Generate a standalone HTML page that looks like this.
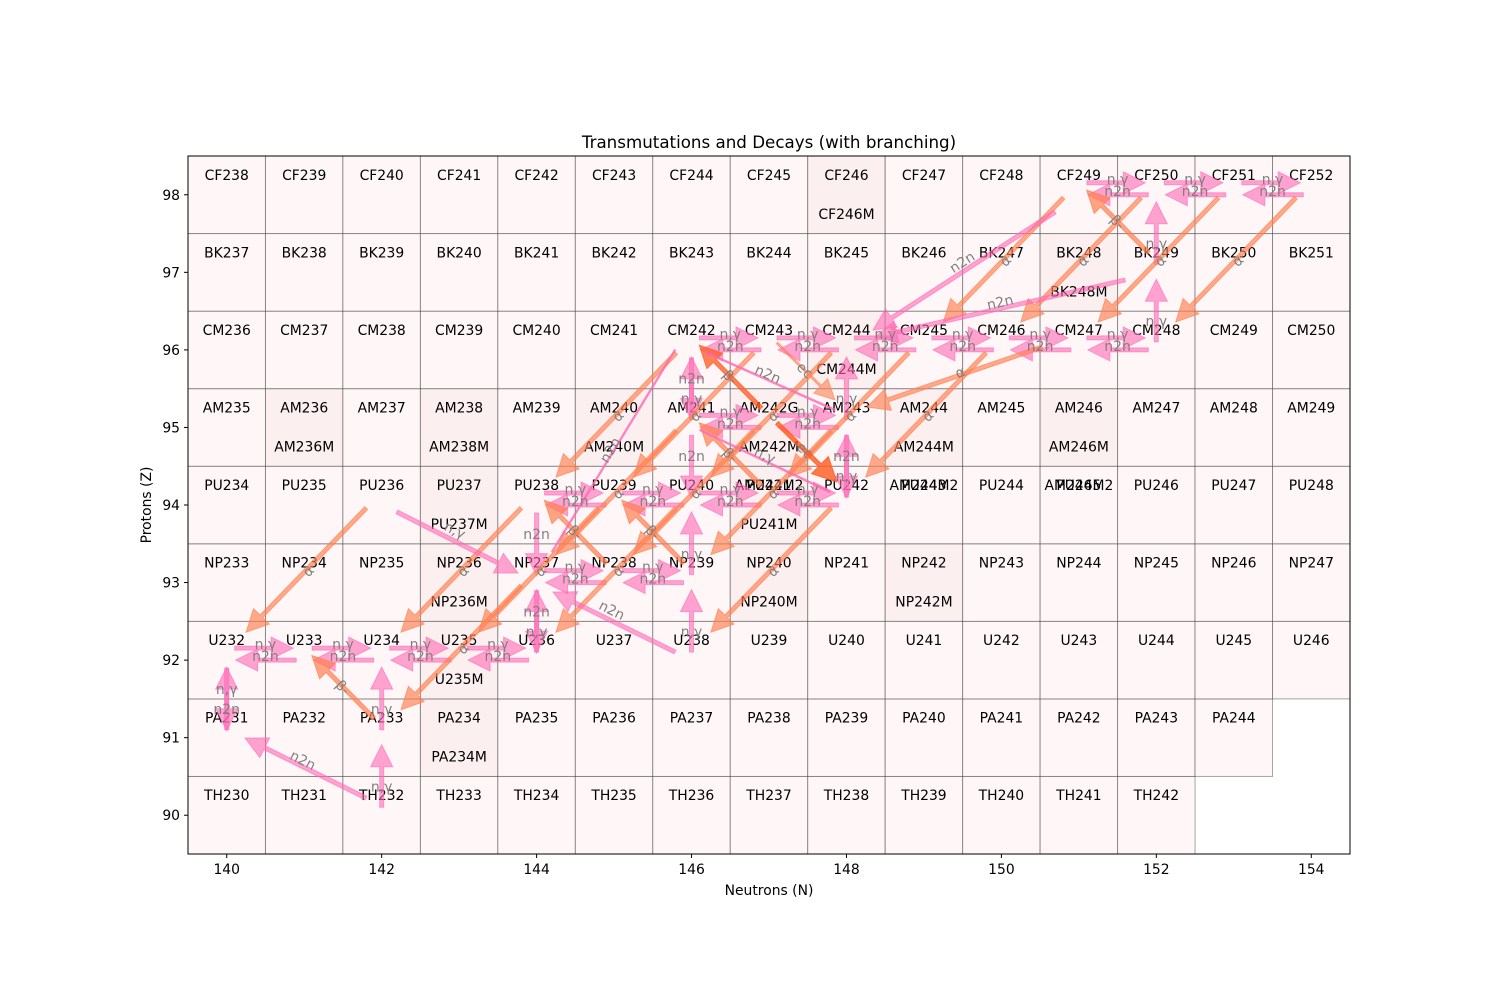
<!DOCTYPE html>
<html><head><meta charset="utf-8"><style>
html,body{margin:0;padding:0;background:#fff;}
svg{display:block;font-family:"DejaVu Sans","Liberation Sans",sans-serif;}
</style></head><body>
<svg id="s" width="1500" height="1000" xmlns="http://www.w3.org/2000/svg"></svg>
<script>
const X=n=>188+(n-139.5)*77.467, Y=z=>854-(z-89.5)*77.556;
let o='';
const rows={90:[140,152],91:[140,153],92:[140,154],93:[140,154],94:[140,154],95:[140,154],96:[140,154],97:[140,154],98:[140,154]};
const el={90:'TH',91:'PA',92:'U',93:'NP',94:'PU',95:'AM',96:'CM',97:'BK',98:'CF'};
const meta={'148,98':'CF246M','151,97':'BK248M','148,96':'CM244M','141,95':'AM236M','143,95':'AM238M','145,95':'AM240M','147,95':'AM242M','149,95':'AM244M','151,95':'AM246M','143,94':'PU237M','147,94':'PU241M','143,93':'NP236M','147,93':'NP240M','149,93':'NP242M','143,92':'U235M','143,91':'PA234M'};
const dark={'148,98':1,'151,97':1,'148,96':1,'141,95':1,'143,95':1,'145,95':1,'147,95':1,'149,95':1,'151,95':1,'143,94':1,'147,94':1,'143,93':1,'147,93':1,'149,93':1,'143,92':1,'143,91':1};
let cells='',txt='';
for(const z in rows){const Z=+z;for(let n=rows[z][0];n<=rows[z][1];n++){
 const k=n+','+Z;
 cells+=`<rect x="${X(n-0.5)}" y="${Y(Z+0.5)}" width="77.467" height="77.556" fill="${dark[k]?'#fcefef':'#fff7f7'}" stroke="rgba(0,0,0,0.35)" stroke-width="1"/>`;
 let name=el[Z]+(n+Z);
 if(k=='147,95')name='AM242G';
 txt+=`<text x="${X(n)}" y="${Y(Z)-15}" text-anchor="middle" font-size="13.9">${name}</text>`;
 if(meta[k])txt+=`<text x="${X(n)}" y="${Y(Z)+24}" text-anchor="middle" font-size="13.9">${meta[k]}</text>`;
}}
txt+=`<text x="${X(147)}" y="${Y(94)-15}" text-anchor="middle" font-size="13.9">AM242M2</text>`;
txt+=`<text x="${X(149)}" y="${Y(94)-15}" text-anchor="middle" font-size="13.9">AM244M2</text>`;
txt+=`<text x="${X(151)}" y="${Y(94)-15}" text-anchor="middle" font-size="13.9">AM246M2</text>`;
let ar='',lb='';
function arr(x1,y1,x2,y2,col,op,w,hw,hl,label,lx,ly,rot){
 w=w||4;hw=hw===undefined?22:hw;hl=hl===undefined?22:hl;
 const dx=x2-x1,dy=y2-y1,L=Math.hypot(dx,dy),ux=dx/L,uy=dy/L,px=-uy,py=ux;
 const sx=x2-ux*hl,sy=y2-uy*hl;
 const P=[[x1+px*w/2,y1+py*w/2],[sx+px*w/2,sy+py*w/2],[sx+px*hw/2,sy+py*hw/2],[x2,y2],[sx-px*hw/2,sy-py*hw/2],[sx-px*w/2,sy-py*w/2],[x1-px*w/2,y1-py*w/2]];
 ar+=`<polygon points="${P.map(p=>p[0].toFixed(1)+','+p[1].toFixed(1)).join(' ')}" fill="${col}" fill-opacity="${op}" stroke="${col}" stroke-opacity="${op}" stroke-width="1"/>`;
 if(label){const mx=lx!==undefined?lx:(x1+x2)/2,my=ly!==undefined?ly:(y1+y2)/2;
  let a=rot?Math.atan2(dy,dx)*180/Math.PI:0; if(a>90)a-=180; if(a<-90)a+=180;
  lb+=`<text x="${mx}" y="${my+5}" text-anchor="middle" font-size="14" fill="#808080" transform="rotate(${a.toFixed(1)} ${mx} ${my})">${label}</text>`;}
}
const PK='#ff69b4',OR='#ff7f50';
// horizontal pairs
const pairs=[[140,92],[141,92],[142,92],[143,92],[144,93],[145,93],[144,94],[145,94],[146,94],[147,94],[146,95],[147,95],[146,96],[147,96],[148,96],[149,96],[150,96],[151,96],[151,98],[152,98],[153,98]];
pairs.forEach(([n,z])=>{
 arr(X(n)+8,Y(z)-12,X(n+1)-11,Y(z)-12,PK,0.6,4,22,22,'n,γ',(X(n)+X(n+1))/2,Y(z)-16);
 arr(X(n+1)-8,Y(z),X(n)+9,Y(z),PK,0.6,4,22,22,'n2n',(X(n)+X(n+1))/2,Y(z)-4);
});
// verticals
function vert(n,z1,z2,label){const up=z2>z1;
 arr(X(n),Y(z1)+(up?-8:8),X(n),Y(z2)+(up?7:-7),PK,0.6,4,22,22,label,X(n),(Y(z1)+Y(z2))/2+(up?10:-10));}
vert(140,91,92,'n2n');vert(140,92,91,'n,γ');
vert(142,90,91,'n,γ');vert(142,91,92,'n,γ');
vert(144,94,93,'n2n');vert(144,93,92,'n2n');vert(144,92,93,'n,γ');
vert(146,92,93,'n,γ');vert(146,93,94,'n,γ');vert(146,95,94,'n2n');vert(146,95,96,'n,γ');vert(146,96,95,'n2n');
vert(148,94,95,'n,γ');vert(148,95,94,'n2n');vert(148,95,96,'n,γ');
vert(152,96,97,'n,γ');vert(152,97,98,'n,γ');
// alpha
[[142,94],[144,94],[145,94],[146,94],[148,94],[144,93],[146,95],[147,95],[148,95],[146,96],[147,96],[148,96],[149,96],[150,96],[151,98],[152,98],[153,98],[154,98]].forEach(([n,z])=>{
 arr(X(n-0.2),Y(z-0.04),X(n-1.75),Y(z-1.64),OR,0.65,4,22,22,'α',X(n-0.95),Y(z-0.85),true);
});
// beta-
[[142,91],[145,93],[146,93],[147,94],[148,97+0],[152,97]].forEach(([n,z])=>{
 if(n==148&&z==97)return;
 arr(X(n-0.1),Y(z+0.25),X(n-0.9),Y(z+1.06),OR,0.7,4,22,22,'β-',X(n-0.5),Y(z+0.65),true);
});
arr(X(146.9),Y(95.25),X(146.1),Y(96.06),'#ff5a1f',0.75,4,22,22,'β-',X(146.5),Y(95.65),true);
// ec
arr(777,343,835,400,OR,0.6,2,20,20,'ec',805,370,true);
arr(777,423,837,482,'#ff5a1f',0.8,4,24,24,'ec',805,450,true);
// extra long lines
arr(1042,347,867,407,OR,0.65,4,22,22,'α',960,372,true);
arr(366,798,245,738,PK,0.6,4,22,22,'n2n',303,760,true);
arr(397,512,518,573,PK,0.6,4,22,22,'n,γ',455,530,true);
arr(675,652,553,592,PK,0.6,4,22,22,'n2n',612,610,true);
arr(675,350,552,552,PK,0.7,1.5,0,0,'n2n',610,450,true);
arr(705,352,835,410,PK,0.7,1.5,0,0,'n2n',768,374,true);
arr(700,430,830,492,PK,0.7,1.5,0,0,'n,γ',765,455,true);
arr(1055,212,873,330,PK,0.6,4,22,22,'n2n',962,262,true);
arr(1125,280,875,337,PK,0.6,4,22,22,'n2n',1000,302,true);
// axes
let ax=`<rect x="188" y="156" width="1162" height="698" fill="none" stroke="#000" stroke-width="1"/>`;
for(let n=140;n<=154;n+=2)ax+=`<line x1="${X(n)}" y1="854" x2="${X(n)}" y2="858" stroke="#000"/><text x="${X(n)}" y="874" text-anchor="middle" font-size="13.9">${n}</text>`;
for(let z=90;z<=98;z++)ax+=`<line x1="184" y1="${Y(z)}" x2="188" y2="${Y(z)}" stroke="#000"/><text x="180" y="${Y(z)+5}" text-anchor="end" font-size="13.9">${z}</text>`;
ax+=`<text x="769" y="148" text-anchor="middle" font-size="16.7">Transmutations and Decays (with branching)</text>`;
ax+=`<text x="769" y="895" text-anchor="middle" font-size="13.9">Neutrons (N)</text>`;
ax+=`<text x="151" y="505" text-anchor="middle" font-size="13.9" transform="rotate(-90 151 505)">Protons (Z)</text>`;
document.getElementById('s').innerHTML=cells+txt+ar+lb+ax;
</script>
</body></html>
